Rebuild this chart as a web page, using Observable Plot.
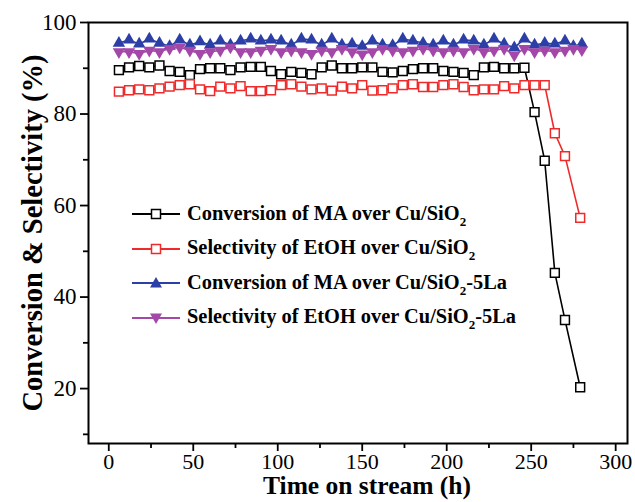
<!DOCTYPE html>
<html><head><meta charset="utf-8">
<script src="https://cdn.jsdelivr.net/npm/d3@7"></script>
<script src="https://cdn.jsdelivr.net/npm/@observablehq/plot@0.6"></script>
<style>
body{margin:0;background:#fff;}
#wrap{position:relative;width:635px;height:502px;overflow:hidden;}
#legend{position:absolute;left:0;top:0;width:635px;height:502px;pointer-events:none;font-family:"Liberation Serif",serif;font-weight:bold;font-size:20.4px;color:#000;}
.row{position:absolute;left:132px;height:24px;line-height:24px;white-space:nowrap;display:flex;align-items:center;}
.row svg{margin-right:7px;}
.sub{font-size:13px;position:relative;top:6px;}
</style>
</head><body>
<div id="wrap"><div id="chart"></div><div id="legend"></div></div>
<script>
// ---- data ----
const seriesNames = [
  "Conversion of MA over Cu/SiO2",
  "Selectivity of EtOH over Cu/SiO2",
  "Conversion of MA over Cu/SiO2-5La",
  "Selectivity of EtOH over Cu/SiO2-5La"
];
const timeCu = [6,12,18,24,30,36,42,48,54,60,66,72,78,84,90,96,102,108,114,120,126,132,138,144,150,156,162,168,174,180,186,192,198,204,210,216,222,228,234,240,246,252,258,264,270,279];
const convCu = [89.6,90.2,90.5,90.2,90.6,89.4,89.2,88.5,89.8,90.0,90.0,89.6,90.2,90.3,90.3,89.4,
  88.7,89.2,89.0,88.7,90.2,90.6,90.0,90.0,90.2,90.2,89.2,89.1,89.4,89.8,90.0,90.0,89.4,
  89.2,89.0,88.5,90.2,90.3,90.0,90.0,90.1,
  80.4,69.8,45.3,35.0,20.3];
const selCu = [84.9,85.2,85.4,85.2,85.6,86.0,86.3,86.5,85.4,85.0,86.0,85.6,86.1,85.0,85.0,85.2,
  86.3,86.5,86.0,85.4,85.6,85.1,86.0,85.6,86.3,85.1,85.2,85.6,86.3,86.5,85.9,85.9,86.3,
  86.5,85.9,85.2,85.4,85.4,86.1,85.6,86.3,
  86.3,86.3,75.8,70.8,57.3];
const timeLa = [6,12,18,24,30,36,42,48,54,60,66,72,78,84,90,96,102,108,114,120,126,132,138,144,150,156,162,168,174,180,186,192,198,204,210,216,222,228,234,240,246,252,258,264,270,275,280];
const convLa = [95.5,96.2,95.3,96.4,95.5,94.8,96.2,95.1,95.8,95.1,96.0,95.1,96.0,96.4,96.0,96.2,
  96.0,95.1,96.4,96.2,95.1,96.4,95.1,95.3,94.8,96.0,95.1,95.0,96.4,96.0,95.5,95.1,96.0,
  95.1,96.2,96.0,95.1,96.4,95.3,94.5,96.4,
  95.1,95.5,95.3,96.0,94.8,95.3];
const selLa = [93.6,93.6,93.2,93.9,93.6,94.3,94.6,93.9,93.2,93.6,93.9,94.6,93.6,93.6,93.9,94.3,
  93.6,93.9,93.6,93.2,93.9,93.6,94.3,93.6,93.1,93.6,94.3,93.9,93.6,93.9,94.3,93.9,93.6,
  93.9,93.6,94.3,93.6,93.9,94.3,92.9,94.3,
  93.6,93.9,93.6,93.9,94.3,94.0];
const xTicks = [0,50,100,150,200,250,300];
const xMinor = [25,75,125,175,225,275];
const yTicks = [20,40,60,80,100];
const yMinor = [10,30,50,70,90];
const xTitle = "Time on stream (h)";
const yTitle = "Conversion & Selectivity (%)";

// ---- styles ----
const colors = ["#000000", "#f02a2a", "#2c3fa6", "#a348a8"];
const triDown = {
  draw(context, size) {
    const s3 = Math.sqrt(3);
    const y = -Math.sqrt(size / (s3 * 3));
    context.moveTo(0, -y * 2);
    context.lineTo(-s3 * y, y);
    context.lineTo(s3 * y, y);
    context.closePath();
  }
};
const rows = (ts, vs) => ts.map((t, i) => ({t, v: vs[i]}));
const dA = rows(timeCu, convCu), dB = rows(timeCu, selCu), dC = rows(timeLa, convLa), dD = rows(timeLa, selLa);

const chart = Plot.plot({
  width: 635, height: 502,
  marginLeft: 88, marginRight: 8, marginTop: 22, marginBottom: 59,
  x: {domain: [-12, 307]},
  y: {domain: [8, 100]},
  style: {fontFamily: "'Liberation Serif', serif", fontSize: "23px", color: "#000", background: "#fff"},
  marks: [
    Plot.axisX({ticks: xTicks, tickSize: 8, tickPadding: 2, fontSize: 22, strokeWidth: 1.8, label: null}),
    Plot.axisX({ticks: xMinor, tickSize: 5, text: null, strokeWidth: 1.8, label: null}),
    Plot.axisY({ticks: yTicks, tickSize: 8, tickPadding: 4, fontSize: 23, strokeWidth: 1.8, label: null}),
    Plot.axisY({ticks: yMinor, tickSize: 5, text: null, strokeWidth: 1.8, label: null}),
    Plot.frame({stroke: "#000", strokeWidth: 2}),
    Plot.line(dA, {x: "t", y: "v", stroke: colors[0], strokeWidth: 1.6}),
    Plot.dot(dA, {x: "t", y: "v", symbol: "square", r: 5, fill: "#fff", stroke: colors[0], strokeWidth: 1.5}),
    Plot.line(dB, {x: "t", y: "v", stroke: colors[1], strokeWidth: 1.6}),
    Plot.dot(dB, {x: "t", y: "v", symbol: "square", r: 5, fill: "#fff", stroke: colors[1], strokeWidth: 1.5}),
    Plot.line(dC, {x: "t", y: "v", stroke: colors[2], strokeWidth: 1.6}),
    Plot.dot(dC, {x: "t", y: "v", symbol: "triangle", r: 4.6, fill: colors[2], stroke: "none"}),
    Plot.line(dD, {x: "t", y: "v", stroke: colors[3], strokeWidth: 1.6}),
    Plot.dot(dD, {x: "t", y: "v", symbol: triDown, r: 4.6, fill: colors[3], stroke: "none"}),
    Plot.text([xTitle], {text: d => d, frameAnchor: "bottom", dx: 9, dy: 50, fontSize: 25.5, fontWeight: "bold", fill: "#000"}),
    Plot.text([yTitle], {text: d => d, frameAnchor: "left", textAnchor: "middle", rotate: -90, dx: -56, dy: 0, fontSize: 28.5, fontWeight: "bold", fill: "#000"})
  ]
});
document.getElementById("chart").appendChild(chart);

// ---- legend overlay ----
const legend = document.getElementById("legend");
const legendY = [214, 248.5, 283, 317.5];
const symbols = ["sq", "sq", "up", "down"];
seriesNames.forEach((name, i) => {
  const row = document.createElement("div");
  row.className = "row";
  row.style.top = (legendY[i] - 12) + "px";
  let mk;
  if (symbols[i] === "sq") mk = `<rect x="19.5" y="5.5" width="9" height="9" fill="#fff" stroke="${colors[i]}" stroke-width="1.5"/>`;
  else if (symbols[i] === "up") mk = `<path d="M24,4 L30,14.5 L18,14.5 Z" fill="${colors[i]}"/>`;
  else mk = `<path d="M24,16 L30,5.5 L18,5.5 Z" fill="${colors[i]}"/>`;
  const svg = `<svg width="48" height="20" viewBox="0 0 48 20"><line x1="0" y1="10" x2="48" y2="10" stroke="${colors[i]}" stroke-width="1.8"/>${mk}</svg>`;
  const label = name.replace("SiO2", "SiO<span class='sub'>2</span>");
  row.innerHTML = svg + `<span>${label}</span>`;
  legend.appendChild(row);
});
</script>
</body></html>
